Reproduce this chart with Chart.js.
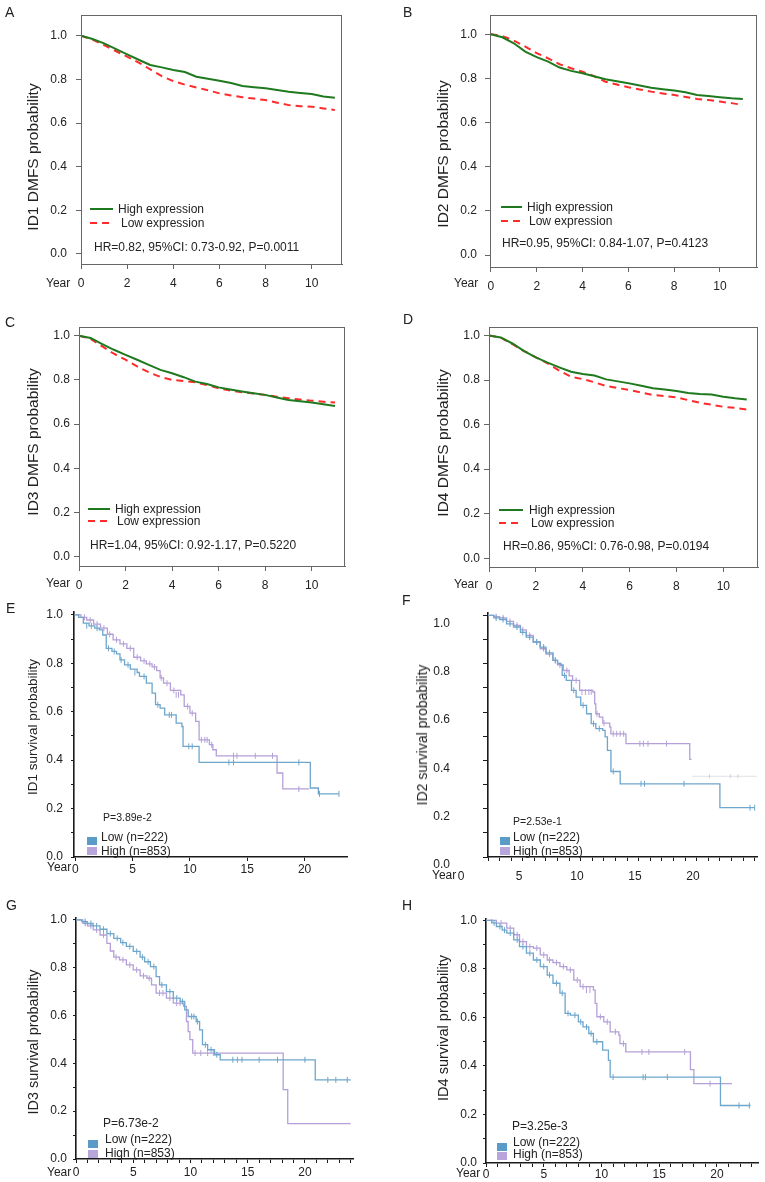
<!DOCTYPE html>
<html><head><meta charset="utf-8">
<script src="https://cdn.jsdelivr.net/npm/chart.js@4.4.1/dist/chart.umd.min.js"></script>
<style>
html,body{margin:0;padding:0;background:#fff;}
body{width:765px;height:1182px;position:relative;overflow:hidden;font-family:"Liberation Sans",Arial,sans-serif;color:#222;}
canvas{position:absolute;}
.t{position:absolute;white-space:nowrap;line-height:1;}
.yt{position:absolute;white-space:nowrap;line-height:1;transform:translate(-50%,-50%) rotate(-90deg);}
.mk{position:absolute;}
</style></head><body>
<script>
// ---------- DATA ----------
const yearsDMFS = [0,0.5,1,1.5,2,2.5,3,3.5,4,4.5,5,5.5,6,6.5,7,7.5,8,8.5,9,9.5,10,10.5,11];
const aHigh = [1.0,0.985,0.965,0.94,0.915,0.89,0.866,0.855,0.843,0.834,0.812,0.803,0.794,0.783,0.77,0.764,0.759,0.751,0.743,0.738,0.733,0.722,0.716];
const aLow  = [1.0,0.982,0.957,0.93,0.904,0.877,0.846,0.815,0.792,0.776,0.763,0.75,0.736,0.726,0.718,0.712,0.705,0.693,0.682,0.677,0.675,0.667,0.66];
const bHigh = [1.0,0.986,0.959,0.921,0.896,0.876,0.849,0.834,0.823,0.81,0.796,0.787,0.778,0.768,0.758,0.751,0.745,0.737,0.725,0.72,0.715,0.71,0.707];
const bLow  = [1.0,0.992,0.971,0.944,0.914,0.891,0.864,0.846,0.83,0.81,0.785,0.772,0.76,0.75,0.74,0.732,0.725,0.716,0.707,0.702,0.695,0.688,0.68];
const cHigh = [1.0,0.989,0.962,0.936,0.913,0.891,0.868,0.845,0.83,0.812,0.792,0.781,0.766,0.756,0.747,0.739,0.732,0.72,0.709,0.703,0.697,0.69,0.682];
const cLow  = [1.0,0.985,0.951,0.918,0.891,0.861,0.834,0.813,0.80,0.795,0.789,0.776,0.762,0.752,0.744,0.738,0.732,0.724,0.717,0.711,0.706,0.701,0.697];
const dHigh = [1.0,0.991,0.964,0.93,0.902,0.878,0.857,0.837,0.827,0.82,0.803,0.794,0.785,0.774,0.763,0.757,0.751,0.742,0.737,0.735,0.725,0.718,0.713];
const dLow  = [1.0,0.99,0.961,0.93,0.902,0.875,0.842,0.815,0.804,0.79,0.773,0.764,0.755,0.744,0.733,0.728,0.722,0.71,0.698,0.689,0.68,0.675,0.668];

// Kaplan-Meier steps (time, survival)
const eLowT  = [0,0.3,0.7,1.2,1.7,2.1,2.4,2.7,3.2,3.6,3.9,4.3,4.8,5.4,5.6,6.2,6.7,7.0,7.4,7.8,8.8,9.3,9.4,10.8,20.5,21.2,23.0];
const eLowS  = [1.0,0.99,0.966,0.955,0.945,0.938,0.917,0.862,0.849,0.839,0.814,0.794,0.776,0.762,0.746,0.718,0.677,0.629,0.615,0.587,0.553,0.539,0.457,0.391,0.285,0.261,0.261];
const eHighT = [0,0.5,1.0,1.6,2.2,2.8,3.3,3.9,4.5,5.1,5.7,6.2,6.7,7.1,7.4,7.7,8.3,9.2,9.5,10.0,10.5,10.8,11.7,12.0,12.3,17.6,18.1,20.4];
const eHighS = [1.0,0.99,0.979,0.962,0.945,0.92,0.897,0.88,0.862,0.825,0.81,0.798,0.785,0.77,0.74,0.718,0.688,0.67,0.622,0.594,0.56,0.484,0.464,0.443,0.418,0.347,0.281,0.281];
const eLowCens  = [[1.0,0.955],[1.4,0.955],[1.9,0.945],[2.9,0.862],[3.4,0.849],[4.0,0.814],[4.6,0.794],[5.2,0.762],[6.0,0.746],[7.2,0.629],[8.2,0.587],[8.4,0.587],[9.9,0.457],[10.2,0.457],[13.4,0.391],[13.8,0.391],[19.5,0.391],[21.3,0.261],[23.0,0.261]];
const eHighCens = [[0.8,0.99],[1.3,0.979],[1.9,0.962],[2.5,0.945],[3.0,0.92],[3.6,0.897],[4.2,0.88],[4.8,0.862],[5.4,0.825],[6.0,0.81],[6.5,0.798],[6.9,0.785],[7.5,0.74],[8.0,0.718],[8.6,0.688],[8.8,0.67],[9.0,0.67],[9.8,0.622],[10.2,0.594],[11.0,0.484],[11.3,0.484],[11.5,0.484],[11.9,0.464],[13.8,0.418],[14.1,0.418],[15.7,0.418],[17.2,0.418],[19.5,0.281]];

const fLowT  = [0,0.5,1.0,1.6,2.2,2.8,3.3,3.9,4.5,5.0,5.6,6.0,6.3,6.4,6.75,7.2,7.6,8.0,8.5,8.9,9.3,9.9,10.1,10.3,10.6,11.4,20.0,23.0];
const fLowS  = [1.0,0.99,0.983,0.965,0.952,0.93,0.91,0.89,0.869,0.845,0.814,0.80,0.793,0.752,0.731,0.69,0.662,0.628,0.593,0.552,0.531,0.524,0.497,0.441,0.354,0.303,0.204,0.204];
const fHighT = [0,0.5,1.0,1.6,2.2,2.8,3.3,3.9,4.5,5.0,5.6,6.0,6.5,7.0,7.3,7.9,9.05,9.2,9.3,9.6,9.9,10.5,10.6,11.9,17.4,17.55];
const fHighS = [1.0,0.995,0.99,0.975,0.959,0.94,0.917,0.89,0.862,0.84,0.814,0.795,0.772,0.75,0.731,0.69,0.683,0.634,0.593,0.579,0.554,0.538,0.51,0.469,0.404,0.404];
const fLowCens  = [[0.7,0.99],[1.3,0.983],[1.9,0.965],[2.5,0.952],[3.0,0.93],[3.6,0.91],[4.2,0.89],[4.8,0.869],[5.3,0.845],[5.8,0.814],[6.6,0.752],[7.4,0.69],[8.2,0.628],[9.1,0.552],[9.6,0.531],[10.8,0.354],[13.2,0.303],[13.5,0.303],[16.9,0.303],[22.6,0.204],[23.0,0.204]];
const fHighCens = [[0.7,0.995],[1.3,0.99],[1.9,0.975],[2.5,0.959],[3.0,0.94],[3.6,0.917],[4.2,0.89],[4.8,0.862],[5.3,0.84],[5.8,0.814],[6.2,0.795],[6.8,0.772],[7.6,0.731],[8.1,0.683],[8.4,0.683],[8.7,0.683],[8.9,0.683],[9.4,0.593],[10.0,0.554],[10.8,0.51],[11.1,0.51],[11.4,0.51],[11.7,0.51],[13.1,0.469],[13.4,0.469],[13.8,0.469],[15.4,0.469]];
const fFaintT = [17.6,23.2];
const fFaintS = [0.334,0.334];
const fFaintCens = [[19.1,0.334],[20.9,0.334],[21.55,0.334]];

const gLowT  = [0,0.5,1.0,1.5,2.1,2.7,3.3,3.9,4.4,5.0,5.6,6.0,6.5,7.0,7.3,7.9,8.5,9.1,9.5,9.8,10.5,10.8,11.05,11.5,12.1,12.6,20.9,24.0];
const gLowS  = [1.0,0.993,0.985,0.975,0.961,0.943,0.923,0.905,0.889,0.868,0.844,0.825,0.805,0.763,0.728,0.70,0.673,0.659,0.624,0.596,0.575,0.54,0.478,0.457,0.436,0.415,0.331,0.331];
const gHighT = [0,0.6,1.0,1.5,2.1,2.7,3.0,3.3,3.8,4.4,5.0,5.6,6.2,6.6,7.0,7.9,8.5,9.4,9.65,9.8,9.95,10.2,18.1,18.5,24.0];
const gHighS = [1.0,0.986,0.975,0.958,0.937,0.902,0.87,0.844,0.833,0.812,0.791,0.766,0.756,0.728,0.694,0.673,0.652,0.638,0.575,0.533,0.499,0.443,0.29,0.148,0.148];
const gLowCens  = [[0.8,0.993],[1.3,0.985],[1.8,0.975],[2.4,0.961],[3.0,0.943],[3.6,0.923],[4.1,0.905],[4.7,0.889],[5.3,0.868],[5.8,0.844],[6.3,0.825],[6.8,0.805],[7.5,0.728],[8.2,0.70],[8.8,0.673],[9.3,0.659],[10.1,0.596],[10.3,0.596],[10.6,0.575],[11.3,0.478],[11.8,0.457],[12.3,0.436],[13.7,0.415],[14.1,0.415],[14.5,0.415],[16.0,0.415],[17.6,0.415],[20.0,0.415],[22.0,0.331],[22.7,0.331],[23.7,0.331]];
const gHighCens = [[0.8,0.986],[1.3,0.975],[1.8,0.958],[2.4,0.937],[3.5,0.844],[4.1,0.833],[4.7,0.812],[5.3,0.791],[5.9,0.766],[6.4,0.756],[7.3,0.694],[7.6,0.694],[8.2,0.673],[8.8,0.652],[9.1,0.652],[10.4,0.443],[10.9,0.443],[11.5,0.443],[12.0,0.443]];

const hLowT  = [0,0.5,0.9,1.4,1.8,2.4,2.9,3.5,4.1,4.7,5.3,5.8,6.4,6.85,7.3,8.0,8.4,8.9,9.3,10.1,10.6,10.75,20.3,22.9];
const hLowS  = [1.0,0.99,0.975,0.96,0.948,0.92,0.892,0.865,0.837,0.81,0.775,0.741,0.70,0.617,0.61,0.582,0.561,0.534,0.50,0.465,0.423,0.354,0.237,0.237];
const hHighT = [0,0.9,1.8,2.4,2.9,3.5,4.1,4.7,5.3,5.8,6.4,7.0,7.6,8.15,9.3,9.45,9.6,10.2,10.75,11.5,11.6,12.1,17.7,18.0,21.3];
const hHighS = [1.0,0.989,0.968,0.941,0.913,0.892,0.886,0.858,0.837,0.826,0.81,0.796,0.754,0.727,0.713,0.658,0.603,0.582,0.541,0.527,0.492,0.458,0.385,0.327,0.327];
const hLowCens  = [[0.7,0.99],[1.2,0.975],[1.6,0.96],[2.1,0.948],[2.7,0.92],[3.2,0.892],[3.8,0.865],[4.4,0.837],[5.0,0.81],[5.5,0.775],[6.1,0.741],[6.6,0.70],[7.1,0.617],[7.7,0.61],[8.2,0.582],[8.7,0.561],[9.1,0.534],[9.6,0.50],[11.0,0.354],[13.6,0.354],[13.8,0.354],[15.7,0.354],[21.9,0.237],[22.8,0.237]];
const hHighCens = [[0.5,1.0],[1.3,0.989],[2.1,0.968],[2.7,0.941],[3.2,0.913],[3.8,0.892],[4.4,0.886],[5.0,0.858],[5.5,0.837],[6.1,0.826],[6.7,0.81],[7.3,0.796],[7.9,0.754],[8.4,0.727],[8.7,0.713],[9.0,0.713],[9.9,0.603],[10.5,0.582],[11.2,0.541],[11.9,0.492],[13.5,0.458],[14.1,0.458],[17.2,0.458],[19.4,0.327]];

// tick values / labels
const xTicksDMFS = [0,2,4,6,8,10];
const yTicksDMFS = [0,0.2,0.4,0.6,0.8,1.0];
const xTicksOSMajor = [0,5,10,15,20];
const xTicksOSFine = [0,1,2,3,4,5,6,7,8,9,10,11,12,13,14,15,16,17,18,19,20,21,22,23,24];
const yTicksOS = [0,0.1,0.2,0.3,0.4,0.5,0.6,0.7,0.8,0.9,1.0];
const yLabelsOS = [0,0.2,0.4,0.6,0.8,1.0];

// ---------- STYLE ----------
const FF = '"Liberation Sans", Arial, sans-serif';
const GREEN = '#1f7a1f', RED = '#ff2a2a', BLUE = '#6ea6cc', PURPLE = '#b4a0d8';
const BLUE_SQ = '#5b9bc8', PURPLE_SQ = '#b8a5dc';

function kmPts(xs, ys){ return xs.map((x,i)=>({x:x, y:ys[i]})); }
function pairPts(arr){ return arr.map(p=>({x:p[0], y:p[1]})); }

const boxPlugin = {
  id:'box',
  afterDraw(chart){
    const a = chart.chartArea, ctx = chart.ctx;
    ctx.save(); ctx.strokeStyle='#666'; ctx.lineWidth=1;
    ctx.strokeRect(a.left+0.5, a.top+0.5, a.right-a.left-1, a.bottom-a.top);
    ctx.restore();
  }
};

function zeroPad(s){ s.paddingTop = 0; s.paddingBottom = 0; s.paddingLeft = 0; s.paddingRight = 0; }

function makePanel(p){
  const c = document.createElement('canvas');
  c.width = p.W; c.height = p.H;
  c.style.left = p.X+'px'; c.style.top = p.Y+'px';
  document.body.appendChild(c);
  const l = p.area[0]-p.X, t = p.area[1]-p.Y, r = p.area[2]-p.X, b = p.area[3]-p.Y;
  new Chart(c, {
    type:'line',
    data:{datasets:p.datasets},
    options:{
      responsive:false, animation:false, devicePixelRatio:1,
      layout:{padding:{left:0, top:t, right:p.W-r, bottom:0}},
      plugins:{legend:{display:false}, tooltip:{enabled:false}},
      elements:{point:{radius:0}, line:{tension:0}},
      scales:{
        x:{type:'linear', min:p.xmin, max:p.xmax,
          afterBuildTicks: ax => { ax.ticks = p.xticks.filter(v=>v>=p.xmin && v<=p.xmax).map(v=>({value:v})); },
          afterFit: s => { s.height = p.H - b; zeroPad(s); },
          ticks:{autoSkip:false, maxRotation:0, minRotation:0, padding:p.xpad, labelOffset:p.xoff||0,
            font:{family:FF, size:12}, color:'#222',
            callback: v => p.xlabels.includes(v) ? String(v) : ''},
          grid:{display:true, drawOnChartArea:false, drawTicks:true, tickLength:p.xtl, tickColor:p.axisColor, tickWidth:1},
          border:{display:true, color:p.axisColor, width:p.axisW}
        },
        y:{type:'linear', min:p.ymin, max:p.ymax,
          afterBuildTicks: ax => { ax.ticks = p.yticks.map(v=>({value:v})); },
          afterFit: s => { s.width = l; zeroPad(s); },
          ticks:{autoSkip:false, padding:p.ypad, labelOffset:p.yoff||0,
            font:{family:FF, size:12}, color:'#222',
            callback: v => p.ylabels.includes(v) ? v.toFixed(1) : ''},
          grid:{display:true, drawOnChartArea:false, drawTicks:true, tickLength:p.ytl, tickColor:p.axisColor, tickWidth:1},
          border:{display:true, color:p.axisColor, width:p.axisW}
        }
      }
    },
    plugins: p.box ? [boxPlugin] : []
  });
}

function dmfsSets(hi, lo){
  return [
    {data:kmPts(yearsDMFS, hi), borderColor:GREEN, borderWidth:2, pointRadius:0},
    {data:kmPts(yearsDMFS, lo), borderColor:RED, borderWidth:2, borderDash:[7,5], pointRadius:0}
  ];
}
function kmSets(lowT, lowS, lowC, highT, highS, highC){
  return [
    {data:kmPts(lowT, lowS), borderColor:BLUE, borderWidth:1.3, stepped:true, pointRadius:0},
    {data:pairPts(lowC), showLine:false, pointStyle:'line', pointRotation:90, pointRadius:3, pointBorderColor:BLUE, pointBorderWidth:1, borderColor:BLUE},
    {data:kmPts(highT, highS), borderColor:PURPLE, borderWidth:1.3, stepped:true, pointRadius:0},
    {data:pairPts(highC), showLine:false, pointStyle:'line', pointRotation:90, pointRadius:3, pointBorderColor:PURPLE, pointBorderWidth:1, borderColor:PURPLE}
  ];
}

const dmfsCommon = {xticks:xTicksDMFS, xlabels:xTicksDMFS, yticks:yTicksDMFS, ylabels:yTicksDMFS,
  xtl:5, ytl:5, xpad:7, axisColor:'#666', axisW:1, box:true};
const osCommon = {yticks:yTicksOS, ylabels:yLabelsOS, xlabels:xTicksOSMajor, xtl:4, ytl:3, axisColor:'#1a1a1a', axisW:1.6, box:false};

makePanel(Object.assign({}, dmfsCommon, {X:0,Y:0,W:380,H:295, area:[81,15,342,264], xmin:0, xmax:11.31, ymin:-0.046, ymax:1.095, ypad:9, datasets:dmfsSets(aHigh,aLow)}));
makePanel(Object.assign({}, dmfsCommon, {X:380,Y:0,W:385,H:295, area:[490,15,757,267], xmin:-0.04, xmax:11.62, ymin:-0.054, ymax:1.087, ypad:8, datasets:dmfsSets(bHigh,bLow)}));
makePanel(Object.assign({}, dmfsCommon, {X:0,Y:290,W:380,H:300, area:[79,327,345,566], xmin:0, xmax:11.43, ymin:-0.042, ymax:1.039, ypad:4, datasets:dmfsSets(cHigh,cLow)}));
makePanel(Object.assign({}, dmfsCommon, {X:380,Y:290,W:385,H:300, area:[489,327,758,567], xmin:0, xmax:11.48, ymin:-0.039, ymax:1.038, ypad:4, datasets:dmfsSets(dHigh,dLow)}));

makePanel(Object.assign({}, osCommon, {X:0,Y:590,W:380,H:295, area:[74,612,347,857], xmin:-0.11, xmax:23.7, ymin:0, ymax:1.012,
  xticks:xTicksOSMajor, xpad:1, ypad:8, datasets:kmSets(eLowT,eLowS,eLowCens,eHighT,eHighS,eHighCens)}));
const fSets = kmSets(fLowT,fLowS,fLowCens,fHighT,fHighS,fHighCens);
fSets.push({data:kmPts(fFaintT,fFaintS), borderColor:'rgba(170,170,185,0.35)', borderWidth:1, pointRadius:0});
fSets.push({data:pairPts(fFaintCens), showLine:false, pointStyle:'line', pointRotation:90, pointRadius:2, pointBorderColor:'rgba(150,150,165,0.4)', pointBorderWidth:1});
makePanel(Object.assign({}, osCommon, {X:380,Y:590,W:385,H:295, area:[488,613,757,857], xmin:0, xmax:23.2, ymin:0, ymax:1.01,
  xticks:xTicksOSFine, xpad:8, xoff:-27, ypad:33, yoff:8, ytl:5, datasets:fSets}));
makePanel(Object.assign({}, osCommon, {X:0,Y:880,W:380,H:302, area:[76,918,353,1159], xmin:0, xmax:24.2, ymin:0, ymax:1.008,
  xticks:xTicksOSFine, xpad:2, ypad:6, datasets:kmSets(gLowT,gLowS,gLowCens,gHighT,gHighS,gHighCens)}));
makePanel(Object.assign({}, osCommon, {X:380,Y:880,W:385,H:302, area:[486,919,758,1163], xmin:0, xmax:23.55, ymin:0, ymax:1.006,
  xticks:xTicksOSFine, xpad:0, ypad:6, datasets:kmSets(hLowT,hLowS,hLowCens,hHighT,hHighS,hHighCens)}));

// ---------- TEXT / LEGENDS ----------
function txt(s, x, y, size){
  const d = document.createElement('div'); d.className='t'; d.textContent=s;
  d.style.fontSize=size+'px'; d.style.left=x+'px'; d.style.top=(y-size*0.5)+'px';
  document.body.appendChild(d);
}
function ytitle(s, cx, cy, size){
  const d = document.createElement('div'); d.className='yt'; d.textContent=s;
  d.style.fontSize=size+'px'; d.style.left=cx+'px'; d.style.top=cy+'px';
  document.body.appendChild(d);
}
function mark(x, y, w, h, bg){
  const d = document.createElement('div'); d.className='mk';
  d.style.left=x+'px'; d.style.top=y+'px'; d.style.width=w+'px'; d.style.height=h+'px'; d.style.background=bg;
  document.body.appendChild(d);
}
const DASH = 'repeating-linear-gradient(90deg,'+RED+' 0 7px,transparent 7px 12px)';

// panel letters
[['A',5,12],['B',403,12],['C',5,322],['D',403,319],['E',6,608],['F',402,600],['G',6,905],['H',402,905]].forEach(a=>txt(a[0],a[1],a[2],14));

// y titles
ytitle('ID1 DMFS probability', 33, 157, 15.5);
ytitle('ID2 DMFS probability', 443, 154, 15.5);
ytitle('ID3 DMFS probability', 33, 442, 15.5);
ytitle('ID4 DMFS probability', 443, 443, 15.5);
ytitle('ID1 survival probability', 33, 727, 13.5);
ytitle('ID2 survival probability', 422, 735, 14);
ytitle('ID3 survival probability', 33, 1042, 14.4);
ytitle('ID4 survival probability', 443, 1028, 14.5);

// Year labels
txt('Year', 46, 283, 12); txt('Year', 454, 283, 12);
txt('Year', 46, 583, 12); txt('Year', 454, 584, 12);
txt('Year', 47, 867, 12); txt('Year', 432, 875, 12);
txt('Year', 47, 1172, 12); txt('Year', 456, 1173, 12);

// DMFS legends
function dmfsLegend(x1, x2, yHi, yLo, txHi, txLo, hrX, hrY, hr){
  mark(x1, yHi-1, x2-x1, 2, GREEN); txt('High expression', txHi, yHi, 12);
  mark(x1, yLo-1, x2-x1, 2, DASH);  txt('Low expression', txLo, yLo, 12);
  txt(hr, hrX, hrY, 12);
}
dmfsLegend(90,113,209,223,118,121,94,247,'HR=0.82, 95%CI: 0.73-0.92, P=0.0011');
dmfsLegend(501,522,207,221,527,529,502,243,'HR=0.95, 95%CI: 0.84-1.07, P=0.4123');
dmfsLegend(88,110,509,521,115,117,90,545,'HR=1.04, 95%CI: 0.92-1.17, P=0.5220');
dmfsLegend(499,523,510,523,529,531,503,546,'HR=0.86, 95%CI: 0.76-0.98, P=0.0194');

// survival legends
function osLegend(pX, pY, pSize, p, sqX, sqY1, sqY2, tX, tY1, tY2){
  txt(p, pX, pY, pSize);
  mark(sqX, sqY1, 10, 8, BLUE_SQ); mark(sqX, sqY2, 10, 8, PURPLE_SQ);
  txt('Low (n=222)', tX, tY1, 12); txt('High (n=853)', tX, tY2, 12);
}
osLegend(103, 817, 10.5, 'P=3.89e-2', 87, 837, 847, 101, 837, 851);
osLegend(513, 821, 10.5, 'P=2.53e-1', 500, 837, 847, 513, 837, 851);
osLegend(103, 1123, 12, 'P=6.73e-2', 88, 1140, 1150, 105, 1139, 1153);
osLegend(512, 1126, 12, 'P=3.25e-3', 497, 1143, 1152, 513, 1142, 1154);
</script>
</body></html>
